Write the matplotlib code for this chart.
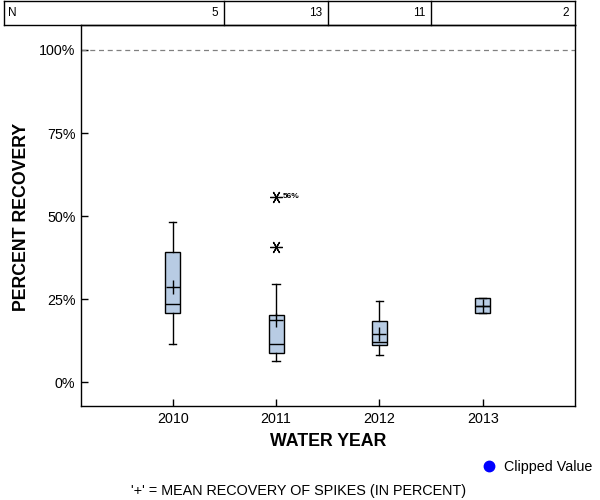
import matplotlib
matplotlib.use("Agg")
import matplotlib.pyplot as plt
from matplotlib.lines import Line2D

plt.rcParams['font.family'] = ['Liberation Sans', 'DejaVu Sans']

years = [2010, 2011, 2012, 2013]
n_counts = [5, 13, 11, 2]
q1 = [20.9, 8.8, 11.2, 20.8]
med = [23.6, 11.5, 12.2, 22.9]
q3 = [39.25, 20.2, 18.4, 25.3]
whislo = [11.6, 6.4, 8.2, 20.8]
whishi = [48.2, 29.7, 24.4, 25.3]
means = [28.6, 18.8, 14.6, 22.9]
fliers = [[], [40.7, 55.9], [], []]
flier_label_year = 2011
flier_label_value = 55.9
flier_label_text = "56%"
yticks = [0, 25, 50, 75, 100]
ytick_labels = ["0%", "25%", "50%", "75%", "100%"]

W, H = 600, 500
fig = plt.figure(figsize=(6, 5), dpi=100)
ax_l, ax_r, ax_t, ax_b = 81, 575, 25, 406
ax = fig.add_axes([ax_l / W, 1 - ax_b / H, (ax_r - ax_l) / W, (ax_b - ax_t) / H])

stats = []
for i in range(len(years)):
    stats.append(dict(med=med[i], q1=q1[i], q3=q3[i], whislo=whislo[i],
                      whishi=whishi[i], mean=means[i], fliers=fliers[i]))

ax.bxp(stats, positions=years, widths=0.145, capwidths=0.07, patch_artist=True,
       showmeans=True, manage_ticks=False,
       boxprops=dict(facecolor='#B8CCE4', edgecolor='black', linewidth=1.0),
       medianprops=dict(color='black', linewidth=1.0),
       whiskerprops=dict(color='black', linewidth=1.0),
       capprops=dict(color='black', linewidth=1.0),
       meanprops=dict(marker='+', markersize=10, markeredgecolor='black',
                      markeredgewidth=1.0, linestyle='none'),
       flierprops=dict(marker=(6, 2, 90), markersize=9, markeredgecolor='black',
                       markerfacecolor='black', markeredgewidth=0.9, linestyle='none'))

ax.text(flier_label_year + 0.065, flier_label_value, flier_label_text,
        fontsize=6, ha='left', va='center', fontweight='bold')

ax.axhline(100, color='#808080', linestyle=(0, (4, 3)), linewidth=0.9)

ax.set_xlim(2009.113, 2013.891)
ax.set_ylim(-7.07, 107.5)
ax.set_xticks(years)
ax.set_xticklabels([str(y) for y in years], fontsize=10.3)
ax.set_yticks(yticks)
ax.set_yticklabels(ytick_labels, fontsize=10.3)
ax.tick_params(direction='in', length=5, width=1, colors='black', pad=4)
for s in ax.spines.values():
    s.set_linewidth(1.0)
    s.set_color('black')

fig.text(22 / W, 1 - 217 / H, "PERCENT RECOVERY", rotation=90, ha='center',
         va='center', fontsize=12.8, fontweight='bold')
fig.text(328 / W, 1 - 441 / H, "WATER YEAR", ha='center', va='center',
         fontsize=12.8, fontweight='bold')

# N table
tab_top, tab_bot = 1, 25
tab_left, tab_right = 4, 575
to_fig = fig.transFigure
def fx(px):
    return px / W
def fy(py):
    return 1 - py / H
def data_px(x):
    x0, x1 = ax.get_xlim()
    return ax_l + (x - x0) / (x1 - x0) * (ax_r - ax_l)

bounds = [tab_left] + [data_px(years[i] + 0.5) for i in range(len(years) - 1)] + [tab_right]
lw = 1.0
fig.add_artist(Line2D([fx(tab_left), fx(tab_right)], [fy(tab_top), fy(tab_top)], color='black', lw=lw, transform=to_fig))
fig.add_artist(Line2D([fx(tab_left), fx(tab_right)], [fy(tab_bot), fy(tab_bot)], color='black', lw=lw, transform=to_fig))
for b in bounds:
    fig.add_artist(Line2D([fx(b), fx(b)], [fy(tab_top), fy(tab_bot)], color='black', lw=lw, transform=to_fig))
ymid = fy((tab_top + tab_bot) / 2)
fig.text(fx(tab_left + 4), ymid, "N", ha='left', va='center', fontsize=8.5)
for i, n in enumerate(n_counts):
    fig.text(fx(bounds[i + 1] - 6), ymid, str(n), ha='right', va='center', fontsize=8.5)

# legend
fig.add_artist(Line2D([fx(489)], [fy(466)], marker='o', markersize=7.5, color='blue',
                      linestyle='none', transform=to_fig))
fig.text(fx(504), fy(467), "Clipped Value", ha='left', va='center', fontsize=10.3)

fig.text(fx(299), fy(491), "'+' = MEAN RECOVERY OF SPIKES (IN PERCENT)", ha='center',
         va='center', fontsize=10.4)

fig.savefig("out.png", dpi=100)
